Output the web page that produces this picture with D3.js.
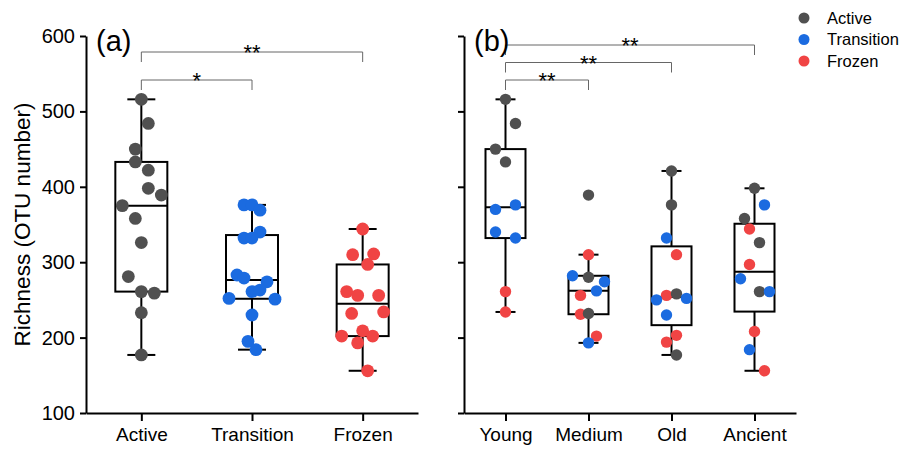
<!DOCTYPE html>
<html>
<head>
<meta charset="utf-8">
<script src="https://cdn.jsdelivr.net/npm/d3@7"></script>
<style>
  body { margin: 0; background: #fff; }
  text { font-family: "Liberation Sans", Arial, sans-serif; fill: #000; }
</style>
</head>
<body>
<div id="vis"></div>
<script>

// ---- data ----

var yTicks = [100, 200, 300, 400, 500, 600];
var stateNames = ['Active', 'Transition', 'Frozen'];
var ageNames = ['Young', 'Medium', 'Old', 'Ancient'];

// panel (a): richness per permafrost state (dx = horizontal dodge of each dot, px)
var activeVals = [516, 484, 450, 433, 422, 398, 389, 375, 358, 326, 281, 261, 259, 233, 177];
var activeDx   = [0, 7, -6, -6, 7, 7, 20, -19, -6, 0, -13, 0, 13, 0, 0];
var transitionVals = [376, 376, 369, 340, 332, 332, 283, 279, 274, 261, 263, 252, 251, 230, 195, 184];
var transitionDx   = [-8, 0, 8, 8, -8, 0, -15, -8, 15, 0, 8, -23, 23, 0, -4, 4];
var frozenVals = [344, 310, 311, 297, 261, 256, 256, 232, 234, 202, 209, 202, 193, 156];
var frozenDx   = [0, -10, 11, 5, -16, -5, 16, -11, 21, -21, 0, 10, -5, 5];

// panel (b): richness per age class, coloured by state
var youngVals  = [516, 484, 450, 433, 370, 376, 340, 332, 261, 234];
var youngState = ['Active', 'Active', 'Active', 'Active', 'Transition', 'Transition', 'Transition', 'Transition', 'Frozen', 'Frozen'];
var youngDx    = [0, 10, -10, 0, -10, 10, -10, 10, 0, 0];
var mediumVals  = [389, 310, 282, 280, 274, 262, 256, 231, 232, 202, 193];
var mediumState = ['Active', 'Frozen', 'Transition', 'Active', 'Transition', 'Transition', 'Frozen', 'Frozen', 'Active', 'Frozen', 'Transition'];
var mediumDx    = [0, 0, -16, 0, 16, 8, -8, -8, 0, 8, 0];
var oldVals  = [421, 376, 332, 310, 256, 258, 250, 252, 230, 203, 194, 177];
var oldState = ['Active', 'Active', 'Transition', 'Frozen', 'Frozen', 'Active', 'Transition', 'Transition', 'Transition', 'Frozen', 'Frozen', 'Active'];
var oldDx    = [0, 0, -5, 5, -5, 5, -15, 15, -5, 5, -5, 5];
var ancientVals  = [398, 376, 358, 344, 326, 297, 278, 261, 261, 208, 184, 156];
var ancientState = ['Active', 'Transition', 'Active', 'Frozen', 'Active', 'Frozen', 'Transition', 'Active', 'Transition', 'Frozen', 'Transition', 'Frozen'];
var ancientDx    = [0, 10, -10, -5, 5, -5, -14, 5, 15, 0, -5, 10];

// significance brackets
var sigA = [
  { from: 'Active', to: 'Frozen', label: '**', row: 0 },
  { from: 'Active', to: 'Transition', label: '*', row: 1 }
];
var sigB = [
  { from: 'Young', to: 'Ancient', label: '**', row: 0 },
  { from: 'Young', to: 'Old', label: '**', row: 1 },
  { from: 'Young', to: 'Medium', label: '**', row: 2 }
];

var colors = { Active: '#505050', Transition: '#1b6be0', Frozen: '#f04444' };

// ---- build groups ----

function makeGroup(name, vals, dx, states) {
  return {
    name: name,
    points: vals.map(function(v, i) {
      return { value: v, dx: dx[i], state: states ? states[i] : name };
    })
  };
}

var groupsA = [
  makeGroup('Active', activeVals, activeDx),
  makeGroup('Transition', transitionVals, transitionDx),
  makeGroup('Frozen', frozenVals, frozenDx)
];
var groupsB = [
  makeGroup('Young', youngVals, youngDx, youngState),
  makeGroup('Medium', mediumVals, mediumDx, mediumState),
  makeGroup('Old', oldVals, oldDx, oldState),
  makeGroup('Ancient', ancientVals, ancientDx, ancientState)
];

// quartiles as median of the lower / upper halves (median excluded)
function boxStats(vals) {
  var s = vals.slice().sort(d3.ascending);
  var n = s.length;
  var half = Math.floor(n / 2);
  var q1 = d3.median(s.slice(0, half));
  var q3 = d3.median(s.slice(n - half));
  var iqr = q3 - q1;
  var inside = s.filter(function(v) { return v >= q1 - 1.5 * iqr && v <= q3 + 1.5 * iqr; });
  return { q1: q1, med: d3.median(s), q3: q3, lo: d3.min(inside), hi: d3.max(inside) };
}

// ---- canvas ----

var width = 904, height = 450;
var svg = d3.select('#vis').append('svg')
  .attr('width', width)
  .attr('height', height);

var y = d3.scaleLinear().domain([100, 600]).range([413, 36]);

function drawPanel(opts) {
  var x = d3.scalePoint()
    .domain(opts.groups.map(function(g) { return g.name; }))
    .range([opts.left, opts.right])
    .padding(0.5);

  var g = svg.append('g');

  // y axis
  var yAxis = g.append('g')
    .attr('transform', 'translate(' + opts.left + ',0)')
    .call(d3.axisLeft(y).tickValues(yTicks).tickSize(6).tickSizeOuter(0).tickPadding(5)
      .tickFormat(opts.yLabels ? d3.format('d') : ''));
  yAxis.select('.domain').attr('stroke-width', 2);
  yAxis.selectAll('.tick line').attr('stroke-width', 2);
  yAxis.selectAll('.tick text').attr('font-size', 20).attr('fill', '#000')
    .attr('font-family', '"Liberation Sans", Arial, sans-serif');

  // x axis
  var xAxis = g.append('g')
    .attr('transform', 'translate(0,' + y(100) + ')')
    .call(d3.axisBottom(x).tickSize(8).tickSizeOuter(0).tickPadding(7));
  xAxis.select('.domain').attr('stroke-width', 2);
  xAxis.selectAll('.tick line').attr('stroke-width', 2);
  xAxis.selectAll('.tick text').attr('font-size', 19).attr('fill', '#000')
    .attr('font-family', '"Liberation Sans", Arial, sans-serif');

  // boxes
  opts.groups.forEach(function(grp) {
    var st = boxStats(grp.points.map(function(p) { return p.value; }));
    var cx = x(grp.name);
    var bw = opts.boxW, cw = opts.capW;
    var bg = g.append('g').attr('stroke', '#000').attr('stroke-width', 2).attr('fill', 'none');
    bg.append('line').attr('x1', cx).attr('x2', cx).attr('y1', y(st.hi)).attr('y2', y(st.q3));
    bg.append('line').attr('x1', cx).attr('x2', cx).attr('y1', y(st.q1)).attr('y2', y(st.lo));
    bg.append('line').attr('x1', cx - cw / 2).attr('x2', cx + cw / 2).attr('y1', y(st.hi)).attr('y2', y(st.hi));
    bg.append('line').attr('x1', cx - cw / 2).attr('x2', cx + cw / 2).attr('y1', y(st.lo)).attr('y2', y(st.lo));
    bg.append('rect').attr('x', cx - bw / 2).attr('width', bw)
      .attr('y', y(st.q3)).attr('height', y(st.q1) - y(st.q3));
    bg.append('line').attr('x1', cx - bw / 2).attr('x2', cx + bw / 2).attr('y1', y(st.med)).attr('y2', y(st.med));
  });

  // points
  opts.groups.forEach(function(grp) {
    g.selectAll(null)
      .data(grp.points)
      .enter()
      .append('circle')
      .attr('cx', function(d) { return x(grp.name) + d.dx; })
      .attr('cy', function(d) { return y(d.value); })
      .attr('r', opts.r)
      .attr('fill', function(d) { return colors[d.state]; });
  });

  // significance brackets
  opts.sig.forEach(function(s) {
    var by = opts.sigTop + s.row * opts.sigStep;
    var x1 = x(s.from), x2 = x(s.to);
    g.append('path')
      .attr('d', 'M' + x1 + ',' + (by + 10) + 'V' + by + 'H' + x2 + 'V' + (by + 10))
      .attr('fill', 'none')
      .attr('stroke', '#666')
      .attr('stroke-width', 1);
    g.append('text')
      .attr('x', (x1 + x2) / 2)
      .attr('y', by + 8)
      .attr('text-anchor', 'middle')
      .attr('font-size', 22)
      .text(s.label);
  });

  // panel letter
  g.append('text')
    .attr('x', opts.left + 10)
    .attr('y', 51)
    .attr('font-size', 29)
    .text(opts.letter);
}

drawPanel({ groups: groupsA, left: 86, right: 418, yLabels: true, boxW: 52, capW: 28, r: 6.4,
            sig: sigA, sigTop: 52, sigStep: 28, letter: '(a)' });
drawPanel({ groups: groupsB, left: 464, right: 796, yLabels: false, boxW: 40, capW: 20, r: 5.7,
            sig: sigB, sigTop: 45, sigStep: 17.5, letter: '(b)' });

// y axis title
svg.append('text')
  .attr('transform', 'translate(30,' + ((y(100) + y(600)) / 2) + ') rotate(-90)')
  .attr('text-anchor', 'middle')
  .attr('font-size', 22.5)
  .text('Richness (OTU number)');

// legend
var legend = svg.append('g').attr('transform', 'translate(804,18)');
stateNames.forEach(function(name, i) {
  legend.append('circle').attr('cx', 0).attr('cy', i * 21.5).attr('r', 5.5).attr('fill', colors[name]);
  legend.append('text').attr('x', 23).attr('y', i * 21.5).attr('dy', '0.35em')
    .attr('font-size', 16.5).text(name);
});

</script>
</body>
</html>
